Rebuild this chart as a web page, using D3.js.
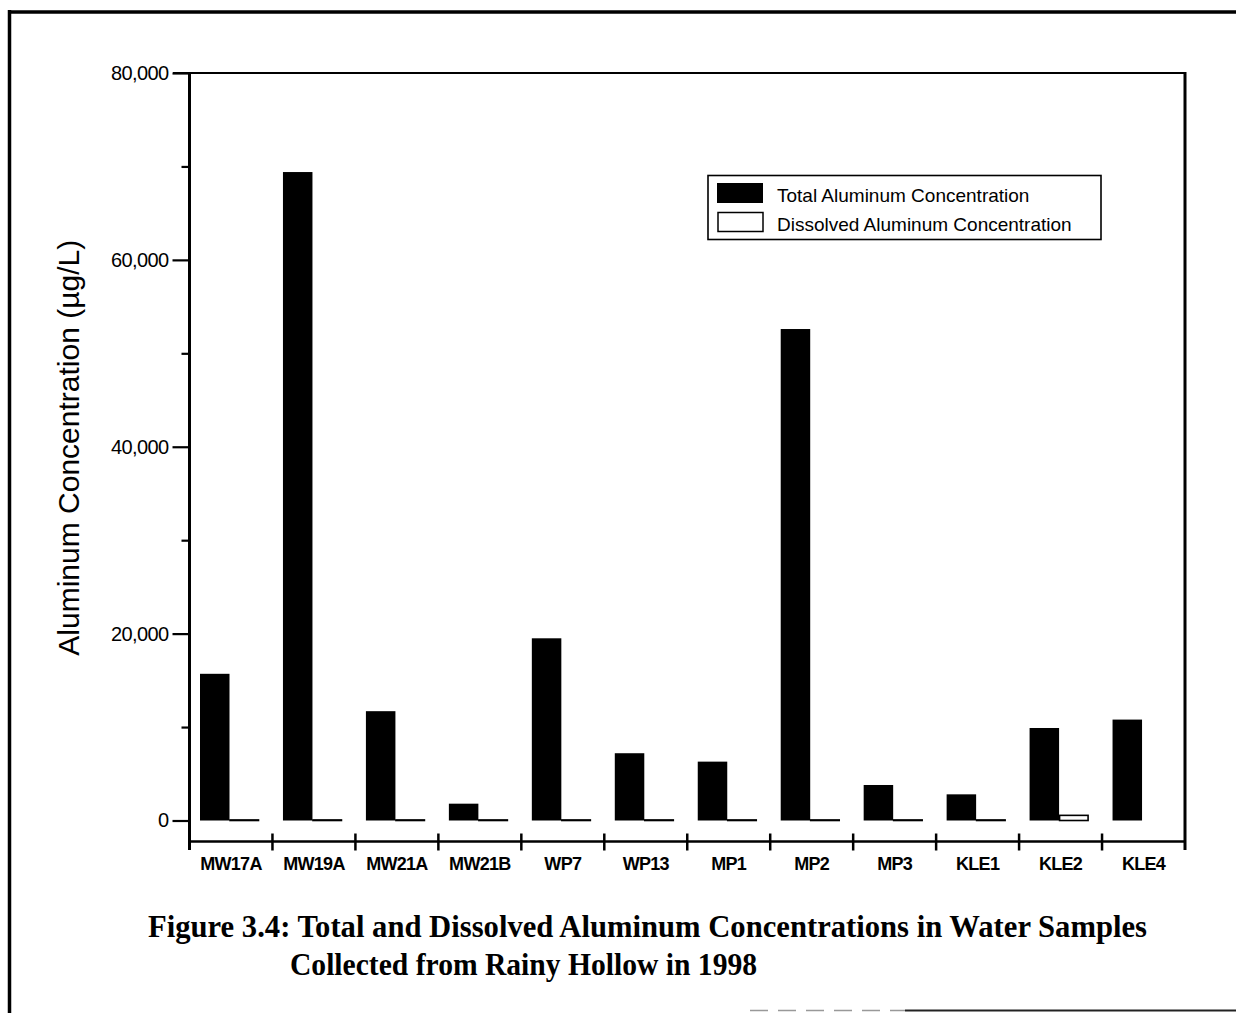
<!DOCTYPE html>
<html>
<head>
<meta charset="utf-8">
<script src="https://cdn.jsdelivr.net/npm/d3@7"></script>
<style>
  html, body { margin: 0; padding: 0; background: #fff; }
  svg { display: block; }
</style>
</head>
<body>
<svg id="chart" width="1236" height="1013"></svg>
<script>
// ---- data ----
const categories = ["MW17A", "MW19A", "MW21A", "MW21B", "WP7", "WP13", "MP1", "MP2", "MP3", "KLE1", "KLE2", "KLE4"];
const totalAluminum = [15700, 69400, 11700, 1800, 19500, 7200, 6300, 52600, 3800, 2800, 9900, 10800];
const dissolvedAluminum = [60, 60, 60, 60, 60, 60, 60, 60, 60, 60, 550, null];
const yMajorTicks = [0, 20000, 40000, 60000, 80000];
const yMinorTicks = [10000, 30000, 50000, 70000];
const seriesNames = ["Total Aluminum Concentration", "Dissolved Aluminum Concentration"];
const yAxisTitle = "Aluminum Concentration (\u00b5g/L)";
const titleLines = ["Figure 3.4: Total and Dissolved Aluminum Concentrations in Water Samples",
                    "Collected from Rainy Hollow in 1998"];

// ---- layout ----
const svg = d3.select("#chart");
const plotLeft = 189.5, plotRight = 1185, plotTop = 73, zeroY = 820.5, axisY = 841.5, frameBottom = 850;

const x = d3.scaleBand().domain(categories).range([plotLeft, plotRight]).paddingInner(0).paddingOuter(0);
const y = d3.scaleLinear().domain([0, 80000]).range([zeroY, plotTop]);
const barW = 29.5, barOff = 10.5;

// outer page border
svg.append("line").attr("x1", 9.5).attr("x2", 9.5).attr("y1", 10).attr("y2", 1013)
  .attr("stroke", "#000").attr("stroke-width", 3.5);
svg.append("line").attr("x1", 8).attr("x2", 1236).attr("y1", 12).attr("y2", 12)
  .attr("stroke", "#000").attr("stroke-width", 3.5);
svg.append("line").attr("x1", 905).attr("x2", 1236).attr("y1", 1010.5).attr("y2", 1010.5)
  .attr("stroke", "#222").attr("stroke-width", 2);
svg.append("line").attr("x1", 750).attr("x2", 905).attr("y1", 1010.5).attr("y2", 1010.5)
  .attr("stroke", "#999").attr("stroke-width", 1.5).attr("stroke-dasharray", "18,10");

// bars: total
const g = svg.append("g");
g.selectAll("rect.total").data(categories).join("rect")
  .attr("class", "total")
  .attr("x", d => x(d) + barOff)
  .attr("y", (d, i) => y(totalAluminum[i]))
  .attr("width", barW)
  .attr("height", (d, i) => y(0) - y(totalAluminum[i]))
  .attr("fill", "#000");

// bars: dissolved
g.selectAll("rect.diss").data(categories.filter((d, i) => dissolvedAluminum[i] != null)).join("rect")
  .attr("class", "diss")
  .attr("x", d => x(d) + barOff + barW + 0.5)
  .attr("y", d => y(dissolvedAluminum[categories.indexOf(d)]))
  .attr("width", barW - 1)
  .attr("height", d => Math.max(0.5, y(0) - y(dissolvedAluminum[categories.indexOf(d)])))
  .attr("fill", "#fff").attr("stroke", "#000").attr("stroke-width", 1.6);

// frame
svg.append("line").attr("x1", 173).attr("x2", plotRight).attr("y1", plotTop).attr("y2", plotTop)
  .attr("stroke", "#000").attr("stroke-width", 2.2);
svg.append("line").attr("x1", plotRight).attr("x2", plotRight).attr("y1", plotTop - 1).attr("y2", frameBottom)
  .attr("stroke", "#000").attr("stroke-width", 3);
svg.append("line").attr("x1", plotLeft).attr("x2", plotLeft).attr("y1", plotTop - 1).attr("y2", frameBottom)
  .attr("stroke", "#000").attr("stroke-width", 3);
svg.append("line").attr("x1", plotLeft).attr("x2", plotRight).attr("y1", axisY).attr("y2", axisY)
  .attr("stroke", "#000").attr("stroke-width", 2.5);

// y axis ticks
const yAxis = d3.axisLeft(y).tickValues(yMajorTicks).tickSize(17).tickPadding(4)
  .tickFormat(d3.format(","));
const ya = svg.append("g").attr("transform", `translate(${plotLeft},0)`).call(yAxis);
ya.select(".domain").remove();
ya.selectAll(".tick line").attr("stroke", "#000").attr("stroke-width", 2.2);
ya.selectAll(".tick text").attr("font-family", "Liberation Sans, Arial, sans-serif")
  .attr("font-size", 20).attr("fill", "#000").attr("letter-spacing", "-0.6px");
const yMinor = d3.axisLeft(y).tickValues(yMinorTicks).tickSize(8).tickFormat("");
const ym = svg.append("g").attr("transform", `translate(${plotLeft},0)`).call(yMinor);
ym.select(".domain").remove();
ym.selectAll(".tick line").attr("stroke", "#000").attr("stroke-width", 2.2);

// x axis ticks (category boundaries, crossing the axis)
const boundaries = categories.slice(1).map(d => x(d));
svg.append("g").selectAll("line").data(boundaries).join("line")
  .attr("x1", d => d).attr("x2", d => d).attr("y1", axisY - 8).attr("y2", axisY + 9)
  .attr("stroke", "#000").attr("stroke-width", 2.5);

// x labels
svg.append("g").selectAll("text").data(categories).join("text")
  .attr("x", d => x(d) + x.bandwidth() / 2)
  .attr("y", 870)
  .attr("text-anchor", "middle")
  .attr("font-family", "Liberation Sans, Arial, sans-serif")
  .attr("font-weight", "bold").attr("font-size", 18).attr("letter-spacing", "-0.7px")
  .text(d => d);

// y axis title
svg.append("text")
  .attr("transform", `translate(79,${(plotTop + zeroY) / 2 + 1}) rotate(-90)`)
  .attr("text-anchor", "middle")
  .attr("font-family", "Liberation Sans, Arial, sans-serif")
  .attr("font-size", 30)
  .text(yAxisTitle);

// legend
const lg = svg.append("g");
lg.append("rect").attr("x", 708).attr("y", 175.5).attr("width", 393).attr("height", 64)
  .attr("fill", "#fff").attr("stroke", "#000").attr("stroke-width", 1.6);
lg.append("rect").attr("x", 717).attr("y", 183).attr("width", 46).attr("height", 20).attr("fill", "#000");
lg.append("rect").attr("x", 718).attr("y", 212.5).attr("width", 45).attr("height", 19)
  .attr("fill", "#fff").attr("stroke", "#000").attr("stroke-width", 1.5);
lg.selectAll("text").data(seriesNames).join("text")
  .attr("x", 777).attr("y", (d, i) => 202 + i * 29)
  .attr("font-family", "Liberation Sans, Arial, sans-serif")
  .attr("font-size", 19).attr("letter-spacing", "0px")
  .text(d => d);

// caption
const cap = svg.append("g").attr("font-family", "Liberation Serif, Times New Roman, serif")
  .attr("font-weight", "bold").attr("font-size", 32);
cap.append("text").attr("x", 148).attr("y", 937)
  .attr("textLength", 999).attr("lengthAdjust", "spacingAndGlyphs").text(titleLines[0]);
cap.append("text").attr("x", 290).attr("y", 975)
  .attr("textLength", 467).attr("lengthAdjust", "spacingAndGlyphs").text(titleLines[1]);
</script>
</body>
</html>
